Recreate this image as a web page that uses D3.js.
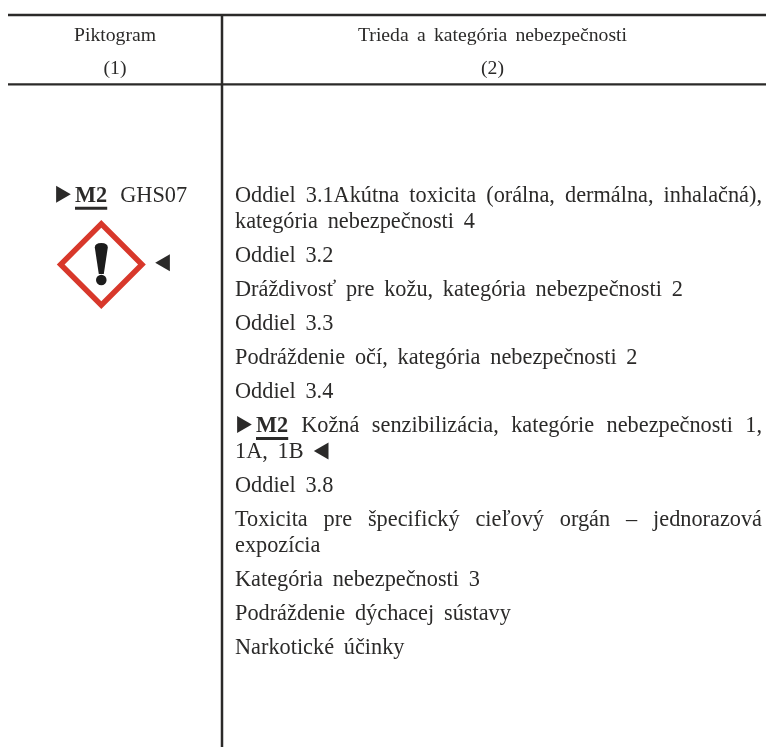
<!DOCTYPE html>
<html>
<head>
<meta charset="utf-8">
<script src="https://cdn.jsdelivr.net/npm/d3@7"></script>
<style>
  html, body { margin: 0; padding: 0; background: #fff; }
  svg { display: block; filter: blur(0.35px); }
  text { font-family: "Liberation Serif", serif; fill: #2b2a29; }
</style>
</head>
<body>
<div id="chart"></div>
<script>
//table header
const columnTitles = ["Piktogram", "Trieda a kategória nebezpečnosti"];
const columnNumbers = ["(1)", "(2)"];
const pictogramCode = "GHS07";
const amendment = "M2";

//paragraphs of the right column, each one a list of printed lines.
//marked = starts with the amendment arrow, justify = line is stretched to full width
const paragraphs = [
  { lines: [{ t: "Oddiel 3.1Akútna toxicita (orálna, dermálna, inhalačná),", justify: true }, { t: "kategória nebezpečnosti 4" }] },
  { lines: [{ t: "Oddiel 3.2" }] },
  { lines: [{ t: "Dráždivosť pre kožu, kategória nebezpečnosti 2" }] },
  { lines: [{ t: "Oddiel 3.3" }] },
  { lines: [{ t: "Podráždenie očí, kategória nebezpečnosti 2" }] },
  { lines: [{ t: "Oddiel 3.4" }] },
  { marked: true, lines: [{ t: "Kožná senzibilizácia, kategórie nebezpečnosti 1,", justify: true }, { t: "1A, 1B", close: true }] },
  { lines: [{ t: "Oddiel 3.8" }] },
  { lines: [{ t: "Toxicita pre špecifický cieľový orgán – jednorazová", justify: true }, { t: "expozícia" }] },
  { lines: [{ t: "Kategória nebezpečnosti 3" }] },
  { lines: [{ t: "Podráždenie dýchacej sústavy" }] },
  { lines: [{ t: "Narkotické účinky" }] },
];

const width = 766;
const height = 747;
const fontSize = 22.3;
const headSize = 19.7;
const ink = "#2b2a29";

const svg = d3
  .select("#chart")
  .append("svg")
  .attr("width", width)
  .attr("height", height);

//rules
const ruleLeft = 8;
const dividerX = 222;
const rules = [15, 84.3];
svg
  .selectAll("line.rule")
  .data(rules)
  .join("line")
  .attr("class", "rule")
  .attr("x1", ruleLeft)
  .attr("x2", width)
  .attr("y1", (d) => d)
  .attr("y2", (d) => d)
  .attr("stroke", ink)
  .attr("stroke-width", 2.3);

svg
  .append("line")
  .attr("x1", dividerX)
  .attr("x2", dividerX)
  .attr("y1", rules[0])
  .attr("y2", height)
  .attr("stroke", ink)
  .attr("stroke-width", 2.5);

//header cells
const colCenters = [115, 492.5];
const titleWidths = [82, 269];
svg
  .selectAll("text.title")
  .data(columnTitles)
  .join("text")
  .attr("class", "title")
  .attr("x", (d, i) => colCenters[i])
  .attr("y", 40.7)
  .attr("text-anchor", "middle")
  .attr("font-size", headSize)
  .text((d) => d)
  .each(function (d, i) {
    const gaps = d.split(" ").length - 1;
    if (gaps) {
      const extra = titleWidths[i] - this.getComputedTextLength();
      d3.select(this).attr("word-spacing", extra / gaps);
    }
  });

svg
  .selectAll("text.num")
  .data(columnNumbers)
  .join("text")
  .attr("class", "num")
  .attr("x", (d, i) => colCenters[i])
  .attr("y", 74)
  .attr("text-anchor", "middle")
  .attr("font-size", headSize)
  .text((d) => d);

function triangle(g, x, y, dir) {
  g.append("path")
    .attr("d", d3.symbol(d3.symbolTriangle, 125)())
    .attr("transform", `translate(${x},${y}) rotate(${dir})`)
    .attr("fill", ink);
}

//amendment mark = triangle + bold underlined M2
function amendmentMark(g, x, y) {
  triangle(g, x + 5.5, y - 8, 90);
  const t = g
    .append("text")
    .attr("x", x + 19.5)
    .attr("y", y)
    .attr("font-size", fontSize)
    .attr("font-weight", 700)
    .text(amendment);
  const w = t.node().getComputedTextLength();
  g.append("line")
    .attr("x1", x + 19.5)
    .attr("x2", x + 19.5 + w)
    .attr("y1", y + 6)
    .attr("y2", y + 6)
    .attr("stroke", ink)
    .attr("stroke-width", 3);
  return x + 19.5 + w;
}

//pictogram cell
const firstBaseline = 202.3;
const pic = svg.append("g");
const markEnd = amendmentMark(pic, 55.5, firstBaseline);
pic
  .append("text")
  .attr("x", markEnd + 13)
  .attr("y", firstBaseline)
  .attr("font-size", fontSize)
  .text(pictogramCode);

const diamond = pic.append("g").attr("transform", "translate(101.3,264.5)");
diamond
  .append("path")
  .attr("d", d3.symbol(d3.symbolSquare, 3300)())
  .attr("transform", "rotate(45)")
  .attr("fill", "#fff")
  .attr("stroke", "#d8382b")
  .attr("stroke-width", 5.5);
diamond
  .append("path")
  .attr("d", "M-6.5,-17 Q-6.5,-21.5 0,-21.5 Q6.5,-21.5 6.5,-17 L2.5,9.5 L-2.5,9.5 Z")
  .attr("fill", "#1c1c1c");
diamond
  .append("circle")
  .attr("cy", 15.5)
  .attr("r", 5.3)
  .attr("fill", "#1c1c1c");
triangle(pic, 165, 262.7, -90);

//right column text
const textLeft = 235;
const textRight = 762;
const wrapStep = 25.5;
const paraStep = 34.1;
const plainWordGap = 4.2;

const body = svg.append("g");
let y = firstBaseline;
paragraphs.forEach((p) => {
  p.lines.forEach((line, i) => {
    let x = textLeft;
    if (p.marked && i === 0) x = amendmentMark(body, textLeft + 1.5, y) + 13;
    const t = body
      .append("text")
      .attr("x", x)
      .attr("y", y)
      .attr("font-size", fontSize)
      .attr("word-spacing", plainWordGap)
      .text(line.t);
    if (line.justify) {
      t.attr("word-spacing", 0);
      const gaps = line.t.split(" ").length - 1;
      const extra = textRight - x - t.node().getComputedTextLength();
      t.attr("word-spacing", extra / gaps);
    }
    if (line.close) {
      triangle(body, x + t.node().getComputedTextLength() + 20, y - 7, -90);
    }
    if (i < p.lines.length - 1) y += wrapStep;
  });
  y += paraStep;
});
</script>
</body>
</html>
